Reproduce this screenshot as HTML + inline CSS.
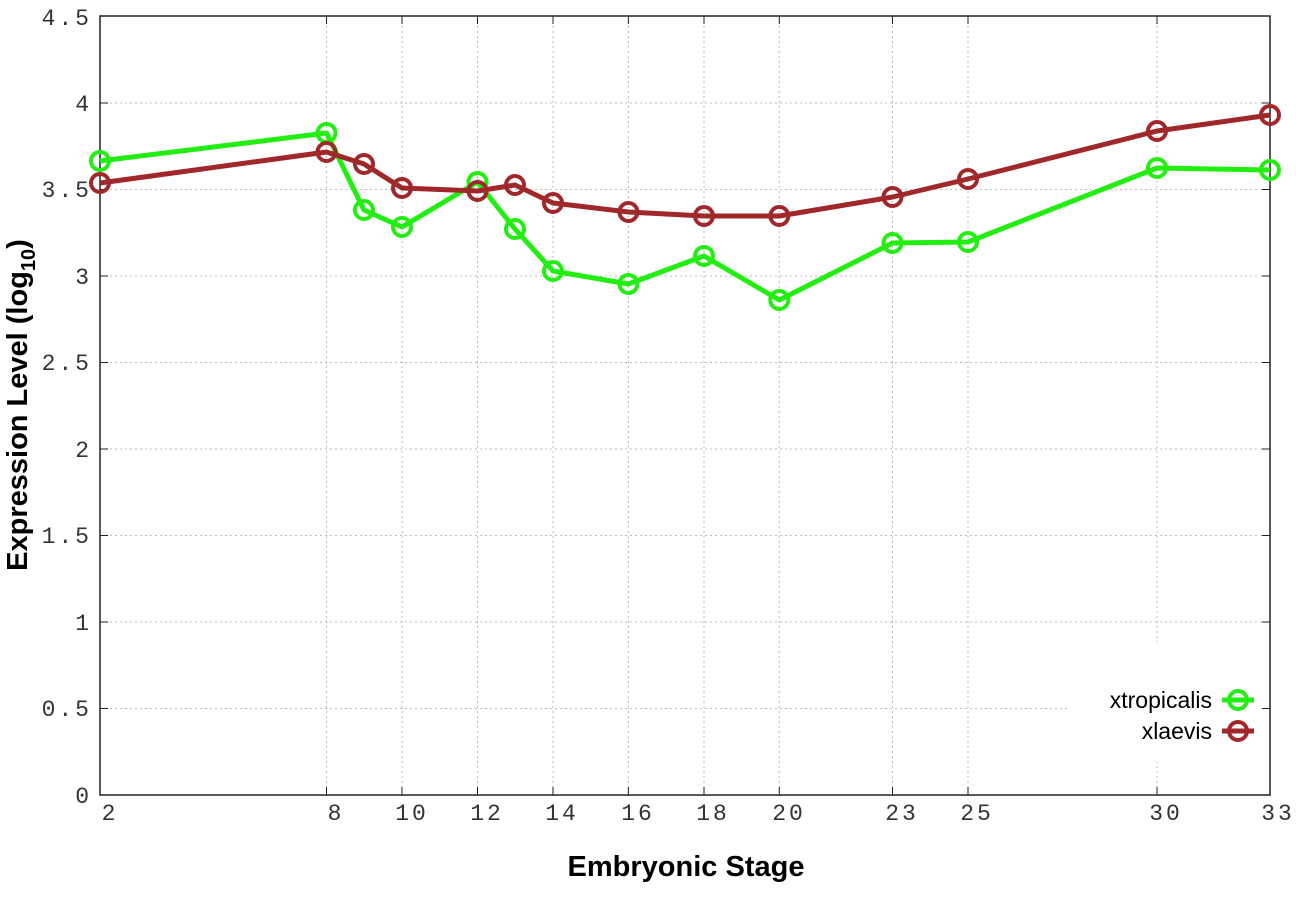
<!DOCTYPE html>
<html><head><meta charset="utf-8"><style>body{margin:0;background:#fff}svg{display:block}</style></head>
<body>
<svg width="1296" height="907" viewBox="0 0 1296 907" xmlns="http://www.w3.org/2000/svg">
<rect width="1296" height="907" fill="#fff"/>
<g stroke="#bbb" stroke-width="1" stroke-dasharray="2,3">
<line x1="100" x2="1270" y1="103" y2="103"/>
<line x1="100" x2="1270" y1="189.5" y2="189.5"/>
<line x1="100" x2="1270" y1="276" y2="276"/>
<line x1="100" x2="1270" y1="362.5" y2="362.5"/>
<line x1="100" x2="1270" y1="449" y2="449"/>
<line x1="100" x2="1270" y1="535.5" y2="535.5"/>
<line x1="100" x2="1270" y1="622" y2="622"/>
<line x1="100" x2="1270" y1="708.5" y2="708.5"/>
<line x1="326.5" x2="326.5" y1="16" y2="795"/>
<line x1="402" x2="402" y1="16" y2="795"/>
<line x1="477.5" x2="477.5" y1="16" y2="795"/>
<line x1="553" x2="553" y1="16" y2="795"/>
<line x1="628.4" x2="628.4" y1="16" y2="795"/>
<line x1="704" x2="704" y1="16" y2="795"/>
<line x1="779.3" x2="779.3" y1="16" y2="795"/>
<line x1="892.5" x2="892.5" y1="16" y2="795"/>
<line x1="968" x2="968" y1="16" y2="795"/>
<line x1="1157" x2="1157" y1="16" y2="795"/>
</g>
<rect x="1070" y="642" width="198" height="120" fill="#fff"/>
<g stroke="#222" stroke-width="1.5">
<rect x="100" y="16" width="1170" height="779" fill="none"/>
<g stroke-width="1">
<path d="M100 103h8M100 189.5h8M100 276h8M100 362.5h8M100 449h8M100 535.5h8M100 622h8M100 708.5h8M100 16h8"/>
<path d="M1270 103h-8M1270 189.5h-8M1270 276h-8M1270 362.5h-8M1270 449h-8M1270 535.5h-8M1270 622h-8M1270 708.5h-8M1270 16h-8"/>
<path d="M326.5 795v-8M402 795v-8M477.5 795v-8M553 795v-8M628.4 795v-8M704 795v-8M779.3 795v-8M892.5 795v-8M968 795v-8M1157 795v-8"/>
<path d="M326.5 16v8M402 16v8M477.5 16v8M553 16v8M628.4 16v8M704 16v8M779.3 16v8M892.5 16v8M968 16v8M1157 16v8"/>
</g>
</g>
<g font-family="Liberation Mono, monospace" font-size="23" fill="#333" text-anchor="end" letter-spacing="3">
<text x="92" y="25">4.5</text><text x="92" y="111">4</text><text x="92" y="197">3.5</text><text x="92" y="284">3</text><text x="92" y="370">2.5</text><text x="92" y="457">2</text><text x="92" y="543">1.5</text><text x="92" y="630">1</text><text x="92" y="716">0.5</text><text x="92" y="803">0</text>
</g>
<g font-family="Liberation Mono, monospace" font-size="23" fill="#333" text-anchor="middle" letter-spacing="3">
<text x="110" y="820">2</text><text x="336" y="820">8</text><text x="412" y="820">10</text><text x="487" y="820">12</text><text x="562" y="820">14</text><text x="638" y="820">16</text><text x="713" y="820">18</text><text x="789" y="820">20</text><text x="902" y="820">23</text><text x="977" y="820">25</text><text x="1166" y="820">30</text><text x="1278" y="820">33</text>
</g>
<text x="686" y="876" font-family="Liberation Sans, sans-serif" font-size="29" font-weight="bold" text-anchor="middle" fill="#000">Embryonic Stage</text>
<text transform="translate(27,405) rotate(-90)" font-family="Liberation Sans, sans-serif" font-size="29" font-weight="bold" text-anchor="middle" fill="#000">Expression Level (log<tspan font-size="20" dy="8">10</tspan><tspan dy="-8">)</tspan></text>
<g fill="none" stroke-width="5" stroke-linejoin="round">
<polyline stroke="#22ee11" points="100,161 326.5,133 364,210 402,227 477.5,182 515,229 553,271 628.4,284 704,256 779.3,300 892.5,243 968,242 1157,168 1270,170"/>
<g stroke="#22ee11" stroke-width="4">
<circle cx="100" cy="161" r="9"/><circle cx="326.5" cy="133" r="9"/><circle cx="364" cy="210" r="9"/><circle cx="402" cy="227" r="9"/><circle cx="477.5" cy="182" r="9"/><circle cx="515" cy="229" r="9"/><circle cx="553" cy="271" r="9"/><circle cx="628.4" cy="284" r="9"/><circle cx="704" cy="256" r="9"/><circle cx="779.3" cy="300" r="9"/><circle cx="892.5" cy="243" r="9"/><circle cx="968" cy="242" r="9"/><circle cx="1157" cy="168" r="9"/><circle cx="1270" cy="170" r="9"/>
</g>
<polyline stroke="#a0282a" points="100,183 326.5,152 364,164 402,188 477.5,191 515,185 553,203 628.4,212 704,216 779.3,216 892.5,197 968,179 1157,131 1270,115"/>
<g stroke="#a0282a" stroke-width="4">
<circle cx="100" cy="183" r="9"/><circle cx="326.5" cy="152" r="9"/><circle cx="364" cy="164" r="9"/><circle cx="402" cy="188" r="9"/><circle cx="477.5" cy="191" r="9"/><circle cx="515" cy="185" r="9"/><circle cx="553" cy="203" r="9"/><circle cx="628.4" cy="212" r="9"/><circle cx="704" cy="216" r="9"/><circle cx="779.3" cy="216" r="9"/><circle cx="892.5" cy="197" r="9"/><circle cx="968" cy="179" r="9"/><circle cx="1157" cy="131" r="9"/><circle cx="1270" cy="115" r="9"/>
</g>
<line x1="1222" x2="1254" y1="700" y2="700" stroke="#22ee11"/><circle cx="1238" cy="700" r="9" stroke="#22ee11" stroke-width="4"/>
<line x1="1222" x2="1254" y1="731" y2="731" stroke="#a0282a"/><circle cx="1238" cy="731" r="9" stroke="#a0282a" stroke-width="4"/>
</g>
<g font-family="Liberation Sans, sans-serif" font-size="23" fill="#000" text-anchor="end">
<text x="1212" y="708">xtropicalis</text><text x="1212" y="739">xlaevis</text>
</g>
</svg>
</body></html>
